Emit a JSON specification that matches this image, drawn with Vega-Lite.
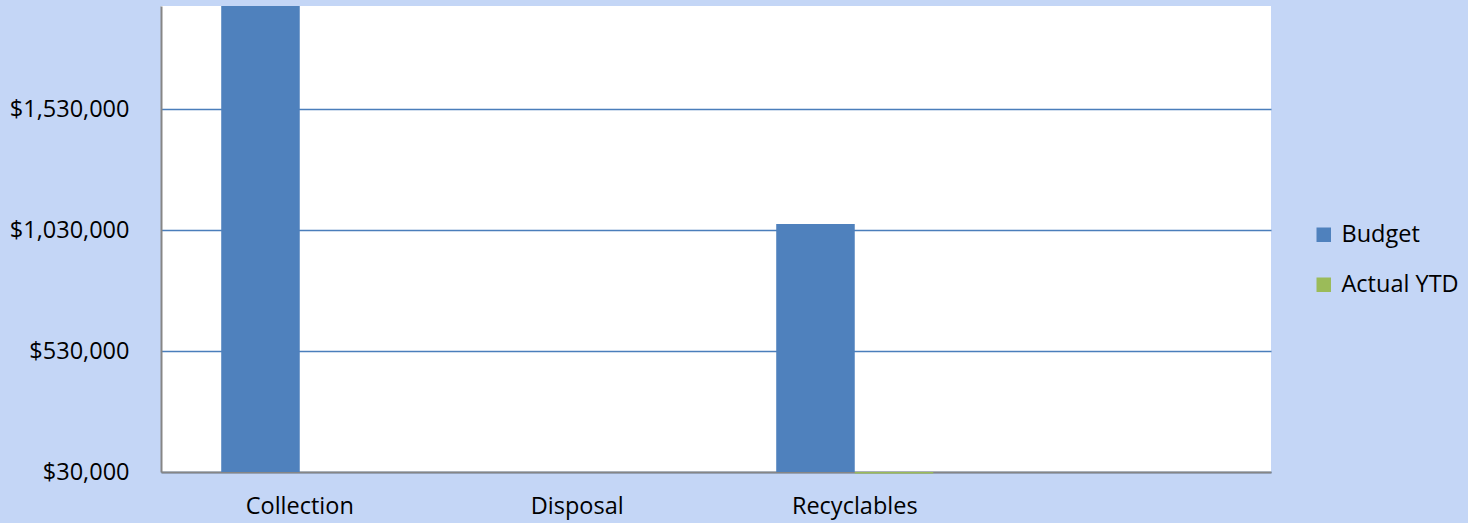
{
  "$schema": "https://vega.github.io/schema/vega-lite/v6.json",
  "autosize": "none",
  "padding": {"left": 161, "top": 6, "right": 197, "bottom": 51},
  "width": 1110,
  "height": 466,
  "background": "#c4d6f6",
  "config": {
    "view": {"stroke": null, "fill": "#ffffff"},
    "font": "Open Sans"
  },
  "data": {
    "values": [
      {"Category": "Collection", "Series": "Budget", "Amount": 2100000},
      {"Category": "Collection", "Series": "Actual YTD", "Amount": null},
      {"Category": "Disposal", "Series": "Budget", "Amount": null},
      {"Category": "Disposal", "Series": "Actual YTD", "Amount": null},
      {"Category": "Recyclables", "Series": "Budget", "Amount": 1055000},
      {"Category": "Recyclables", "Series": "Actual YTD", "Amount": 24000}
    ]
  },
  "encoding": {
    "x": {
      "field": "Category",
      "type": "nominal",
      "sort": null,
      "scale": {"domain": ["Collection", "Disposal", "Recyclables", ""], "paddingInner": 0.434, "paddingOuter": 0.217},
      "axis": {
        "title": null,
        "labelAngle": 0,
        "ticks": false,
        "domainColor": "#868686",
        "domainWidth": 2,
        "labelFont": "Open Sans",
        "labelFontSize": 23.5,
        "labelColor": "#000000",
        "labelPadding": 22,
        "labelBaseline": "top"
      }
    },
    "xOffset": {
      "field": "Series",
      "type": "nominal",
      "scale": {"domain": ["Budget", "Actual YTD"], "paddingInner": 0, "paddingOuter": 0}
    },
    "y": {
      "field": "Amount",
      "type": "quantitative",
      "scale": {"domain": [30000, 1956000], "zero": false, "nice": false},
      "axis": {
        "title": null,
        "values": [30000, 530000, 1030000, 1530000],
        "format": "$,.0f",
        "ticks": false,
        "domainColor": "#868686",
        "domainWidth": 2,
        "grid": true,
        "gridColor": "#4a7ebb",
        "gridWidth": 1.5,
        "labelFont": "Open Sans",
        "labelFontSize": 23.5,
        "labelColor": "#000000",
        "labelPadding": 32
      }
    },
    "y2": {"datum": 30000},
    "color": {
      "field": "Series",
      "type": "nominal",
      "scale": {"domain": ["Budget", "Actual YTD"], "range": ["#4f81bd", "#9bbb59"]},
      "legend": {
        "title": null,
        "orient": "none",
        "legendX": 1151,
        "legendY": 217,
        "padding": 0,
        "symbolType": "square",
        "symbolSize": 210,
        "symbolStrokeWidth": 0,
        "labelFont": "Open Sans",
        "labelFontSize": 23.5,
        "labelColor": "#000000",
        "labelOffset": 6,
        "rowPadding": 25
      }
    }
  },
  "layer": [
    {
      "transform": [{"filter": "datum.Series === 'Budget'"}],
      "mark": {"type": "bar", "clip": true}
    },
    {
      "transform": [{"filter": "datum.Series === 'Actual YTD'"}],
      "mark": {"type": "bar", "clip": false}
    }
  ]
}
